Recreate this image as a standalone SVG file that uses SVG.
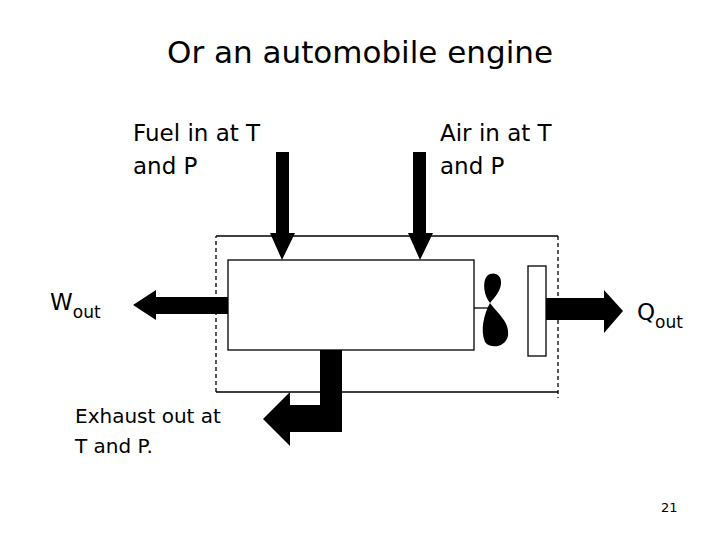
<svg xmlns="http://www.w3.org/2000/svg" width="720" height="540" viewBox="0 0 720 540">
<style>
text{font-family:"DejaVu Sans",Verdana,sans-serif;fill:#000}
.t{font-size:23px}
.f{fill:#000}
.l{fill:none;stroke:#000;stroke-width:1.3}
</style>
<rect width="720" height="540" fill="#fff"/>
<text x="360" y="63" font-size="31" text-anchor="middle">Or an automobile engine</text>
<g id="system">
<path class="l" d="M216,392 L216,236 M558,236 L558,398" stroke-dasharray="4,3"/>
<path class="l" d="M216,236 H558 M216,392 H558"/>
</g>
<g id="engine"><rect class="l" x="228" y="260" width="246" height="90" fill="#fff"/></g>
<g id="fan">
<line class="l" x1="474" y1="308" x2="490" y2="308"/>
<path class="f" d="M490,303 C484,296 482,282 487,276 C493,271 502,274 501,284 C500,292 494,298 490,303 Z"/>
<path class="f" d="M490,303 C484,314 480,330 485,342 C490,349 505,348 508,336 C510,322 498,314 490,303 Z"/>
</g>
<g id="plate"><rect class="l" x="528" y="266" width="18" height="90" fill="#fff"/></g>
<g id="connectors">
<path class="f" d="M276,152 H289 V233 H295 L282,260 L270,233 H276 Z"/>
<path class="f" d="M413,152 H426 V233 H433 L420,260 L408,233 H413 Z"/>
<path class="f" d="M228,297 V314 H156 V320 L133,305 L156,290 V297 Z"/>
<path class="f" d="M546,298 H604 V290 L623,311 L604,333 V320 H546 Z"/>
<path class="f" d="M320,350 H342 V432 H290 V446 L263,419 L290,392 V405 H320 Z"/>
</g>
<g id="labels">
<text class="t" x="133" y="141">Fuel in at T</text>
<text class="t" x="133" y="174">and P</text>
<text class="t" x="440" y="141">Air in at T</text>
<text class="t" x="440" y="174">and P</text>
<text x="50" y="310" font-size="23">W<tspan font-size="17" dy="8">out</tspan></text>
<text x="637" y="320" font-size="23">Q<tspan font-size="17" dy="8">out</tspan></text>
<text x="75" y="423" font-size="20">Exhaust out at</text>
<text x="75" y="453" font-size="20">T and P.</text>
<text x="661" y="512" font-size="13">21</text>
</g>
</svg>
